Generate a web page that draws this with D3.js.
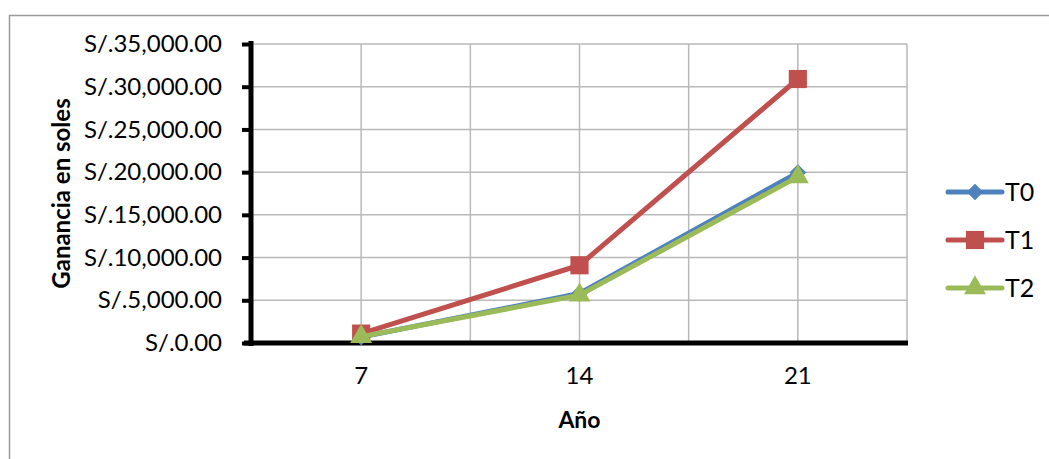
<!DOCTYPE html>
<html>
<head>
<meta charset="utf-8">
<script src="https://cdn.jsdelivr.net/npm/d3@7"></script>
<style>
  html, body { margin: 0; padding: 0; background: #fff; }
  svg { display: block; font-family: Lato, "Open Sans", sans-serif; }
</style>
</head>
<body>
<svg id="chart" width="1049" height="459"></svg>
<script>
// Categories (years) and profit per treatment, in soles
const years = ["7", "14", "21"];
const seriesNames = ["T0", "T1", "T2"];
const t0 = [700, 5800, 19950];
const t1 = [1100, 9100, 30900];
const t2 = [750, 5600, 19450];
const yTicks = [0, 5000, 10000, 15000, 20000, 25000, 30000, 35000];

const seriesValues = [t0, t1, t2];
const colors = ["#4F81BD", "#C0504D", "#9BBB59"];
// T0 uses a square turned 45 degrees (a regular diamond)
const markers = [d3.symbolSquare, d3.symbolSquare, d3.symbolTriangle];
const markerRot = [45, 0, 0];
const markerSizes = [140, 330, 210];

const svg = d3.select("#chart");
const W = 1049, H = 459;
const plot = { left: 252, right: 907, top: 44, bottom: 343 };

// chart frame
svg.append("rect")
  .attr("x", 9.5).attr("y", 15.5)
  .attr("width", W + 20).attr("height", H + 20)
  .attr("fill", "none").attr("stroke", "#9a9a9a").attr("stroke-width", 1.5);

const x = d3.scaleBand().domain(years).range([plot.left, plot.right]).padding(0);
const xc = d => x(d) + x.bandwidth() / 2;
const y = d3.scaleLinear().domain([0, 35000]).range([plot.bottom, plot.top]);

// gridlines
const grid = svg.append("g").attr("stroke", "#b9b9b9").attr("stroke-width", 1.5);
grid.selectAll("line.h").data(yTicks.slice(1)).join("line")
  .attr("x1", plot.left).attr("x2", plot.right)
  .attr("y1", d => y(d)).attr("y2", d => y(d));
const vx = [];
years.forEach(d => { vx.push(xc(d)); vx.push(x(d) + x.bandwidth()); });
grid.selectAll("line.v").data(vx).join("line")
  .attr("x1", d => d).attr("x2", d => d)
  .attr("y1", plot.top).attr("y2", plot.bottom);

// y axis
const yAxis = d3.axisLeft(y).tickValues(yTicks).tickSize(9).tickPadding(20)
  .tickFormat(d => "S/." + d3.format(",.2f")(d));
const gy = svg.append("g").attr("transform", `translate(${plot.left - 1},0)`).call(yAxis);
gy.select(".domain").attr("stroke", "#000").attr("stroke-width", 5)
  .attr("d", `M0,${plot.top - 3}V${plot.bottom + 3}`);
gy.selectAll(".tick line").attr("stroke", "#000").attr("stroke-width", 4);
gy.selectAll(".tick text").attr("fill", "#000").attr("font-size", 24)
  .attr("font-family", "Lato, sans-serif");

// x axis
const xAxis = d3.axisBottom(x).tickSize(0).tickPadding(24);
const gx = svg.append("g").attr("transform", `translate(0,${plot.bottom})`).call(xAxis);
gx.select(".domain").attr("stroke", "#000").attr("stroke-width", 5)
  .attr("d", `M${plot.left - 8},0H${plot.right + 1}`);
gx.selectAll(".tick text").attr("fill", "#000").attr("font-size", 24)
  .attr("font-family", "Lato, sans-serif");

// axis titles
svg.append("text")
  .attr("transform", `translate(70,${(plot.top + plot.bottom) / 2}) rotate(-90)`)
  .attr("text-anchor", "middle")
  .attr("font-size", 24).attr("font-weight", "bold").text("Ganancia en soles");
svg.append("text")
  .attr("x", (plot.left + plot.right) / 2).attr("y", 428)
  .attr("text-anchor", "middle")
  .attr("font-size", 23).attr("font-weight", "bold").text("Año");

// series lines and markers
const line = d3.line().x((d, i) => xc(years[i])).y(d => y(d));
seriesValues.forEach((vals, s) => {
  const g = svg.append("g");
  g.append("path").datum(vals)
    .attr("d", line).attr("fill", "none")
    .attr("stroke", colors[s]).attr("stroke-width", 5)
    .attr("stroke-linejoin", "round").attr("stroke-linecap", "round");
  g.selectAll("path.m").data(vals).join("path")
    .attr("class", "m")
    .attr("transform", (d, i) => `translate(${xc(years[i])},${y(d)}) rotate(${markerRot[s]})`)
    .attr("d", d3.symbol(markers[s], markerSizes[s]))
    .attr("fill", colors[s]);
});

// legend
const legend = svg.append("g");
const legendY = [192, 240, 288];
seriesNames.forEach((name, s) => {
  const g = legend.append("g").attr("transform", `translate(0,${legendY[s]})`);
  g.append("line").attr("x1", 948).attr("x2", 1002)
    .attr("stroke", colors[s]).attr("stroke-width", 5).attr("stroke-linecap", "round");
  g.append("path").attr("transform", `translate(975,0) rotate(${markerRot[s]})`)
    .attr("d", d3.symbol(markers[s], markerSizes[s]))
    .attr("fill", colors[s]);
  g.append("text").attr("x", 1005).attr("y", 0).attr("dy", "0.35em")
    .attr("font-size", 25).text(name);
});
</script>
</body>
</html>
